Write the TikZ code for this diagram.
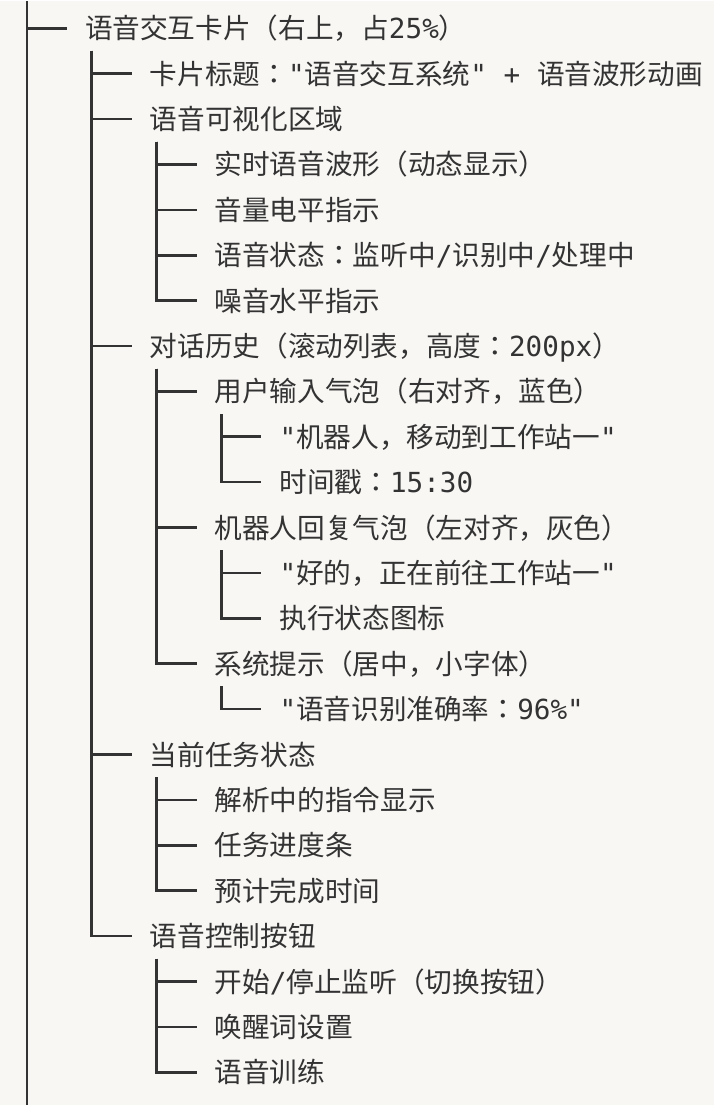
\documentclass[tikz,border=0pt]{standalone}
\usepackage{fontspec}
\setmainfont{Noto Sans CJK JP}
\newfontfamily\monofont{DejaVu Sans Mono}
\newcommand{\mono}[1]{{\monofont #1}}
\usepackage{xcolor}
\usepackage{tikz}
\usetikzlibrary{calc}
\definecolor{paper}{HTML}{F8F7F4}
\definecolor{ink}{HTML}{333333}
\tikzset{
  treeitem/.style={anchor=west, inner sep=0pt, text=ink, text height=24.4pt, text depth=3.3pt, font=\fontsize{27.7}{32}\selectfont},
  branch/.style={draw=ink, line width=2.6pt}
}

\begin{document}
\begin{tikzpicture}[x=1pt, y=-1pt]

\fill[paper] (0,0) rectangle (716,1106);

% Nodes
\node[treeitem] (card) at (85,27) {语音交互卡片（右上，占\mono{25\%}）};
\node[treeitem] (title) at (150,72.5) {卡片标题：\mono{"}语音交互系统\mono{" + }语音波形动画};
\node[treeitem] (viz) at (150,118) {语音可视化区域};
\node[treeitem] (wave) at (215,163.5) {实时语音波形（动态显示）};
\node[treeitem] (volume) at (215,209) {音量电平指示};
\node[treeitem] (state) at (215,254.5) {语音状态：监听中\mono{/}识别中\mono{/}处理中};
\node[treeitem] (noise) at (215,300) {噪音水平指示};
\node[treeitem] (history) at (150,345.5) {对话历史（滚动列表，高度：\mono{200px}）};
\node[treeitem] (userbub) at (215,391) {用户输入气泡（右对齐，蓝色）};
\node[treeitem] (usertext) at (280,436.5) {\mono{"}机器人，移动到工作站一\mono{"}};
\node[treeitem] (usertime) at (280,482) {时间戳：\mono{15:30}};
\node[treeitem] (botbub) at (215,527.5) {机器人回复气泡（左对齐，灰色）};
\node[treeitem] (bottext) at (280,573) {\mono{"}好的，正在前往工作站一\mono{"}};
\node[treeitem] (boticon) at (280,618.5) {执行状态图标};
\node[treeitem] (hint) at (215,664) {系统提示（居中，小字体）};
\node[treeitem] (hinttext) at (280,709.5) {\mono{"}语音识别准确率：\mono{96\%"}};
\node[treeitem] (task) at (150,755) {当前任务状态};
\node[treeitem] (parse) at (215,800.5) {解析中的指令显示};
\node[treeitem] (progress) at (215,846) {任务进度条};
\node[treeitem] (eta) at (215,891.5) {预计完成时间};
\node[treeitem] (ctrl) at (150,937) {语音控制按钮};
\node[treeitem] (toggle) at (215,982.5) {开始\mono{/}停止监听（切换按钮）};
\node[treeitem] (wake) at (215,1028) {唤醒词设置};
\node[treeitem] (train) at (215,1073.5) {语音训练};

\coordinate (top) at (27,0);
\coordinate (bottom) at (27,1106);

% Connections
\draw[branch] (top) -- (bottom);
\draw[branch] (top) |- ($(card.west)+(-18,0)$);
\draw[branch] ($(card.west)+(7,22.75)$) |- ($(title.west)+(-18,0)$);
\draw[branch] ($(card.west)+(7,22.75)$) |- ($(viz.west)+(-18,0)$);
\draw[branch] ($(card.west)+(7,22.75)$) |- ($(history.west)+(-18,0)$);
\draw[branch] ($(card.west)+(7,22.75)$) |- ($(task.west)+(-18,0)$);
\draw[branch] ($(card.west)+(7,22.75)$) |- ($(ctrl.west)+(-18,0)$);
\draw[branch] ($(viz.west)+(7,22.75)$) |- ($(wave.west)+(-18,0)$);
\draw[branch] ($(viz.west)+(7,22.75)$) |- ($(volume.west)+(-18,0)$);
\draw[branch] ($(viz.west)+(7,22.75)$) |- ($(state.west)+(-18,0)$);
\draw[branch] ($(viz.west)+(7,22.75)$) |- ($(noise.west)+(-18,0)$);
\draw[branch] ($(history.west)+(7,22.75)$) |- ($(userbub.west)+(-18,0)$);
\draw[branch] ($(history.west)+(7,22.75)$) |- ($(botbub.west)+(-18,0)$);
\draw[branch] ($(history.west)+(7,22.75)$) |- ($(hint.west)+(-18,0)$);
\draw[branch] ($(userbub.west)+(7,22.75)$) |- ($(usertext.west)+(-18,0)$);
\draw[branch] ($(userbub.west)+(7,22.75)$) |- ($(usertime.west)+(-18,0)$);
\draw[branch] ($(botbub.west)+(7,22.75)$) |- ($(bottext.west)+(-18,0)$);
\draw[branch] ($(botbub.west)+(7,22.75)$) |- ($(boticon.west)+(-18,0)$);
\draw[branch] ($(hint.west)+(7,22.75)$) |- ($(hinttext.west)+(-18,0)$);
\draw[branch] ($(task.west)+(7,22.75)$) |- ($(parse.west)+(-18,0)$);
\draw[branch] ($(task.west)+(7,22.75)$) |- ($(progress.west)+(-18,0)$);
\draw[branch] ($(task.west)+(7,22.75)$) |- ($(eta.west)+(-18,0)$);
\draw[branch] ($(ctrl.west)+(7,22.75)$) |- ($(toggle.west)+(-18,0)$);
\draw[branch] ($(ctrl.west)+(7,22.75)$) |- ($(wake.west)+(-18,0)$);
\draw[branch] ($(ctrl.west)+(7,22.75)$) |- ($(train.west)+(-18,0)$);

\end{tikzpicture}
\end{document}
